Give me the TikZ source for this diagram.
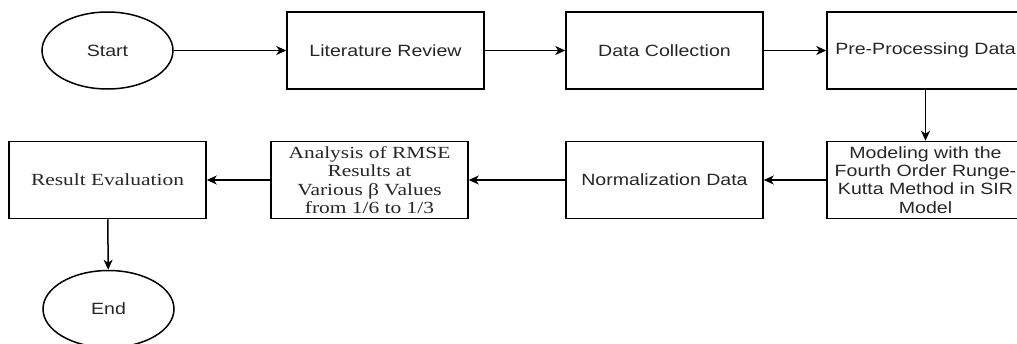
\documentclass[tikz,border=0pt]{standalone}
\usepackage{fontspec}
\usetikzlibrary{arrows.meta,shapes.geometric}
\newfontfamily\flowsans[FakeStretch=1.2]{Liberation Sans}
\newfontfamily\flowserif[FakeStretch=1.26]{Liberation Serif}

\tikzset{
  flowbox/.style={draw, line width=1.5pt, minimum width=197pt, minimum height=77pt,
    inner sep=2pt, align=center, text=black!85, font=\flowsans\fontsize{16.3}{18.3}\selectfont},
  serifbox/.style={flowbox, font=\flowserif\fontsize{17}{18.3}\selectfont},
  terminal/.style={flowbox, ellipse, minimum width=131pt, minimum height=77pt},
  flowarrow/.style={draw, line width=1.5pt, -{Stealth[length=10pt,width=9pt,inset=3pt]}}
}

\begin{document}
\begin{tikzpicture}[x=1pt, y=-1pt]
  \clip (0, 0) rectangle (1017, 343);

  % first row
  \node[terminal] (start) at (107.5, 50.5) {Start};
  \node[flowbox] (litreview) at (385.5, 50.5) {Literature Review};
  \node[flowbox] (datacoll) at (664.5, 50.5) {Data Collection};
  \node[flowbox] (preproc) at (925.5, 50.5) {Pre-Processing Data};

  % second row
  \node[flowbox] (modeling) at (925.5, 180) {Modeling with the\\Fourth Order Runge-\\Kutta Method in SIR\\Model};
  \node[flowbox] (normdata) at (664.5, 180) {Normalization Data};
  \node[serifbox] (rmse) at (369.5, 180) {Analysis of RMSE\\Results at\\Various β Values\\from 1/6 to 1/3};
  \node[serifbox] (evaluation) at (107.5, 180) {Result Evaluation};
  \node[terminal] (finish) at (108.5, 309) {End};

  \draw[flowarrow] (start) -- (litreview);
  \draw[flowarrow] (litreview) -- (datacoll);
  \draw[flowarrow] (datacoll) -- (preproc);
  \draw[flowarrow] (preproc) -- (modeling);
  \draw[flowarrow] (modeling) -- (normdata);
  \draw[flowarrow] (normdata) -- (rmse);
  \draw[flowarrow] (rmse) -- (evaluation);
  \draw[flowarrow] (evaluation) -- (finish);
\end{tikzpicture}
\end{document}
